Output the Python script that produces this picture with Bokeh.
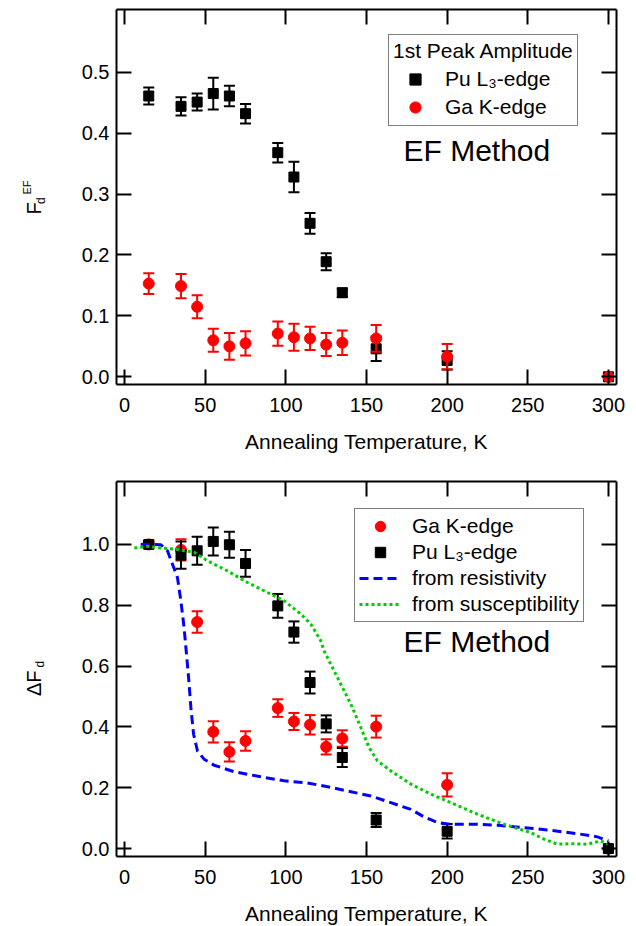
import math
from bokeh.plotting import figure
from bokeh.models import (LinearAxis, FixedTicker, Legend, LegendItem, Label,
                          Range1d, NumeralTickFormatter)
from bokeh.layouts import column, row
from bokeh.embed import file_html
from bokeh.resources import INLINE

# ---------------- data ----------------
temps = [15, 35, 45, 55, 65, 75, 95, 105, 115, 125, 135, 156, 200, 300]

# top panel: 1st peak amplitude F_d^EF
pu_top = [0.461, 0.444, 0.451, 0.465, 0.461, 0.432, 0.368, 0.328, 0.252, 0.189, 0.138, 0.046, 0.027, 0.0]
pu_top_err = [0.014, 0.015, 0.014, 0.026, 0.017, 0.016, 0.016, 0.025, 0.017, 0.014, 0.007, 0.020, 0.015, 0.004]
ga_top = [0.153, 0.149, 0.115, 0.060, 0.050, 0.055, 0.071, 0.065, 0.063, 0.053, 0.056, 0.063, 0.033, 0.0]
ga_top_err = [0.017, 0.020, 0.019, 0.019, 0.022, 0.020, 0.020, 0.022, 0.019, 0.019, 0.020, 0.022, 0.021, 0.003]

# bottom panel: Delta F_d
pu_bot = [1.0, 0.965, 0.979, 1.01, 0.999, 0.9375, 0.798, 0.712, 0.546, 0.41, 0.2995, 0.094, 0.057, 0.0]
pu_bot_err = [0.01, 0.045, 0.046, 0.046, 0.043, 0.044, 0.039, 0.035, 0.036, 0.028, 0.031, 0.023, 0.024, 0.01]
ga_bot = [1.0, 0.982, 0.745, 0.384, 0.318, 0.354, 0.462, 0.418, 0.407, 0.3345, 0.362, 0.401, 0.2095, 0.0]
ga_bot_err = [0.01, 0.035, 0.035, 0.035, 0.032, 0.032, 0.029, 0.028, 0.032, 0.025, 0.027, 0.036, 0.038, 0.0]

res_T = [10, 22.5, 26.6, 29.7, 32.8, 34.9, 36.9, 38.4, 39.7, 41.1, 42.8, 45.2, 49.3, 55.5, 67.9, 84.5,
         98.9, 113.4, 127.9, 140.3, 152.7, 165.1, 177.5, 185.7, 194, 202.3, 218.8, 231.2, 247.7,
         264.3, 280.8, 293.2, 300]
res_v = [1.001, 0.999, 0.979, 0.935, 0.891, 0.815, 0.727, 0.639, 0.5625, 0.464, 0.376, 0.321, 0.294,
         0.274, 0.253, 0.236, 0.223, 0.216, 0.201, 0.187, 0.173, 0.151, 0.129, 0.104, 0.086, 0.080,
         0.080, 0.077, 0.069, 0.060, 0.049, 0.0385, 0.025]

sus_T = [6, 14.3, 22.5, 30.8, 43.2, 51.5, 63.8, 76.2, 88.6, 98.9, 109.3, 115.5, 121.7, 123.7, 132,
         140.3, 146.5, 151.6, 156.8, 165.1, 177.5, 189.9, 202.3, 218.8, 235.3, 251.8, 260.1, 268.4,
         276.6, 287, 295.2, 300]
sus_v = [0.988, 0.994, 0.988, 0.985, 0.974, 0.946, 0.913, 0.875, 0.842, 0.815, 0.771, 0.738, 0.683,
         0.650, 0.5625, 0.475, 0.398, 0.332, 0.2885, 0.2555, 0.212, 0.179, 0.151, 0.113, 0.080,
         0.0526, 0.031, 0.0145, 0.016, 0.0145, 0.025, 0.015]

x_ticks = [0, 50, 100, 150, 200, 250, 300]
top_y_ticks = [0.0, 0.1, 0.2, 0.3, 0.4, 0.5]
bot_y_ticks = [0.0, 0.2, 0.4, 0.6, 0.8, 1.0]

FONT = "Liberation Sans"
RED = "#ff0000"
BLUE = "#0000ff"
GREEN = "#00cc00"
LAB_W = 50          # width of the strip holding the rotated y-axis titles


def style_axis(ax, ticks, show_labels, fmt=None):
    ax.ticker = FixedTicker(ticks=ticks, minor_ticks=[])
    ax.axis_line_width = 2
    ax.axis_line_color = "black"
    ax.major_tick_in = 15
    ax.major_tick_out = 0
    ax.major_tick_line_width = 2
    ax.major_tick_line_color = "black"
    ax.minor_tick_line_color = None
    ax.major_label_text_font = FONT
    if show_labels:
        ax.major_label_text_font_size = "20px"
        ax.major_label_text_color = "black"
    else:
        ax.major_label_text_font_size = "1px"
        ax.major_label_text_color = None
        ax.major_label_standoff = 0
    if fmt is not None:
        ax.formatter = fmt


def make_fig(y_lo, y_hi, y_ticks, top_border, bottom_border):
    p = figure(frame_width=500, frame_height=375, x_range=Range1d(-5, 305),
               y_range=Range1d(y_lo, y_hi), output_backend="svg", toolbar_location=None,
               min_border_left=116 - LAB_W, min_border_right=20, min_border_top=top_border,
               min_border_bottom=bottom_border, background_fill_color="white",
               border_fill_color="white")
    p.outline_line_color = None
    p.xgrid.visible = False
    p.ygrid.visible = False
    fmt = NumeralTickFormatter(format="0.0")
    xa = p.xaxis[0]
    style_axis(xa, x_ticks, True)
    xa.major_label_standoff = 13
    xa.axis_label = "Annealing Temperature, K"
    xa.axis_label_text_font = FONT
    xa.axis_label_text_font_size = "21px"
    xa.axis_label_text_font_style = "normal"
    xa.axis_label_text_color = "black"
    xa.axis_label_standoff = 15
    style_axis(p.yaxis[0], y_ticks, True, fmt)
    p.yaxis[0].major_label_standoff = 7
    top_ax = LinearAxis()
    style_axis(top_ax, x_ticks, False)
    p.add_layout(top_ax, "above")
    right_ax = LinearAxis()
    style_axis(right_ax, y_ticks, False)
    p.add_layout(right_ax, "right")
    return p


def label_strip(height):
    f = figure(width=LAB_W, height=height, x_range=Range1d(0, 1), y_range=Range1d(0, 1),
               output_backend="svg", toolbar_location=None, min_border=0,
               x_axis_location=None, y_axis_location=None,
               background_fill_color="white", border_fill_color="white")
    f.outline_line_color = None
    f.grid.visible = False
    return f


def errbars(p, x, y, e, color):
    lo = [a - b for a, b in zip(y, e)]
    hi = [a + b for a, b in zip(y, e)]
    p.segment(x0=x, y0=lo, x1=x, y1=hi, line_color=color, line_width=2)
    p.scatter(x=list(x) + list(x), y=lo + hi, marker="dash", size=11,
              line_color=color, line_width=2)


def vlabel(p, text, x, y, size):
    # canvas coordinates, text rotated to read upward
    p.add_layout(Label(x=x, y=y, x_units="canvas", y_units="canvas", text=text,
                       angle=math.pi / 2, text_font=FONT, text_font_size=size,
                       text_align="left", text_baseline="middle", text_color="black"))


def method_label(p, x, y):
    p.add_layout(Label(x=x, y=y, x_units="canvas", y_units="canvas", text="EF Method",
                       text_font=FONT, text_font_size="30px", text_align="left",
                       text_baseline="middle", text_color="black"))


def style_legend(leg):
    leg.label_text_font = FONT
    leg.label_text_font_size = "21px"
    leg.label_text_color = "black"
    leg.label_height = 20
    leg.padding = 4
    leg.spacing = 0
    leg.margin = 0
    leg.border_line_color = "black"
    leg.border_line_width = 1.5
    leg.background_fill_color = "white"
    leg.background_fill_alpha = 1.0


# ---------------- top panel ----------------
p1 = make_fig(-0.0126, 0.603, top_y_ticks, 9, 79)
errbars(p1, temps, pu_top, pu_top_err, "black")
sq1 = p1.scatter(temps, pu_top, marker="square", size=10, fill_color="black", line_color="black")
errbars(p1, temps, ga_top, ga_top_err, RED)
ci1 = p1.scatter(temps, ga_top, marker="circle", size=11, fill_color=RED, line_color=RED)

leg1 = Legend(items=[LegendItem(label="Pu L₃-edge", renderers=[sq1]),
                     LegendItem(label="Ga K-edge", renderers=[ci1])],
              location=(272, 258), title="1st Peak Amplitude")
style_legend(leg1)
leg1.title_text_font = FONT
leg1.title_text_font_size = "21px"
leg1.title_text_font_style = "normal"
leg1.title_text_color = "black"
leg1.title_standoff = 2
leg1.glyph_height = 28
leg1.glyph_width = 44
leg1.label_standoff = 8
p1.add_layout(leg1)
method_label(p1, 403 - LAB_W, 150)

s1 = label_strip(463)
vlabel(s1, "F", 33, 214, "20px")
vlabel(s1, "d", 40, 203.5, "12px")
vlabel(s1, "EF", 26, 194, "11px")

# ---------------- bottom panel ----------------
p2 = make_fig(-0.026, 1.207, bot_y_ticks, 18, 70)
errbars(p2, temps, ga_bot, ga_bot_err, RED)
ci2 = p2.scatter(temps, ga_bot, marker="circle", size=11, fill_color=RED, line_color=RED)
errbars(p2, temps, pu_bot, pu_bot_err, "black")
sq2 = p2.scatter(temps, pu_bot, marker="square", size=10, fill_color="black", line_color="black")
ln_res = p2.line(res_T, res_v, line_color=BLUE, line_width=3, line_dash="9 5")
ln_sus = p2.line(sus_T, sus_v, line_color=GREEN, line_width=3, line_dash="3 3")

leg2 = Legend(items=[LegendItem(label="Ga K-edge", renderers=[ci2]),
                     LegendItem(label="Pu L₃-edge", renderers=[sq2]),
                     LegendItem(label="from resistivity", renderers=[ln_res]),
                     LegendItem(label="from susceptibility", renderers=[ln_sus])],
              location=(238, 234))
style_legend(leg2)
leg2.glyph_height = 26
leg2.glyph_width = 42
leg2.label_standoff = 11
p2.add_layout(leg2)
method_label(p2, 403 - LAB_W, 178)

s2 = label_strip(463)
vlabel(s2, "ΔF", 33, 232.5, "20px")
vlabel(s2, "d", 39.5, 204, "12px")

layout = column(row(s1, p1, spacing=0), row(s2, p2, spacing=0), spacing=0)
open("out.html", "w").write(file_html(layout, INLINE))
